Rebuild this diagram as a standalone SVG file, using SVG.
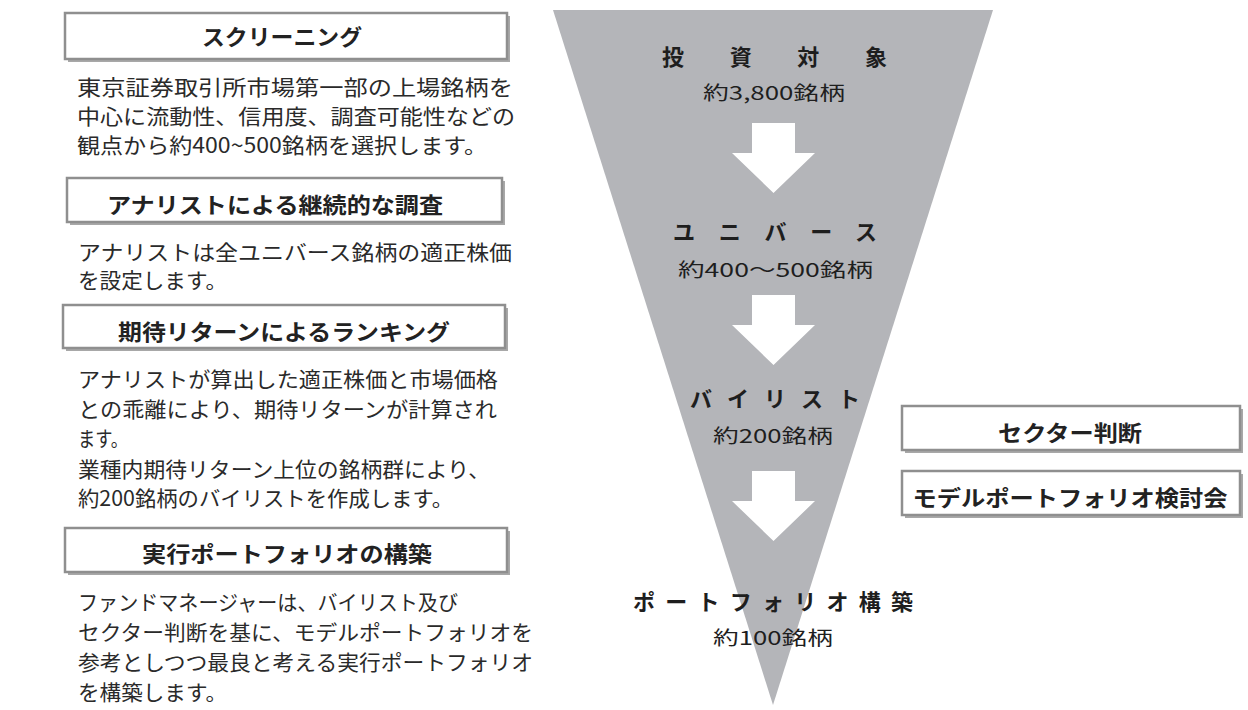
<svg xmlns="http://www.w3.org/2000/svg" width="1248" height="710" viewBox="0 0 1248 710">
<style>
.box{fill:#ffffff;stroke:#8f8f8f;stroke-width:2.5}
.shadow{fill:#a8a8a8}
.title{font-family:"Noto Sans CJK JP","Liberation Sans",sans-serif;font-weight:bold;font-size:22px;fill:#222;text-anchor:middle}
.body{font-family:"Noto Sans CJK JP","Liberation Sans",sans-serif;font-size:21px;fill:#2a2a2a}
.ft{font-family:"Noto Sans CJK JP","Liberation Sans",sans-serif;font-weight:bold;font-size:22px;fill:#1e1e1e}
.fs{font-family:"Noto Sans CJK JP","Liberation Sans",sans-serif;font-size:19px;fill:#1e1e1e}
.arrow{fill:#ffffff}
</style>
<rect width="1248" height="710" fill="#ffffff"/>

<g id="funnel">
<polygon points="553,10 993,10 773,705" fill="#b4b5b9"/>
</g>

<g id="connectors">
<path class="arrow" d="M752,123 H795 V153 H815 L773.5,193 L732,153 H752 Z"/>
<path class="arrow" d="M752,295 H795 V325 H815 L773.5,365 L732,325 H752 Z"/>
<path class="arrow" d="M752,471 H795 V501 H815 L773.5,541 L732,501 H752 Z"/>
</g>

<g id="stage-investment">
<text class="ft" x="662" y="65" font-size="24" textLength="225" lengthAdjust="spacing">投資対象</text>
<text class="fs" x="703" y="100" textLength="142" lengthAdjust="spacingAndGlyphs">約3,800銘柄</text>
</g>
<g id="stage-universe">
<text class="ft" x="673" y="240" textLength="204" lengthAdjust="spacing">ユニバース</text>
<text class="fs" x="678" y="277" textLength="195" lengthAdjust="spacingAndGlyphs">約400～500銘柄</text>
</g>
<g id="stage-buylist">
<text class="ft" x="690" y="407" textLength="170" lengthAdjust="spacing">バイリスト</text>
<text class="fs" x="713" y="443" textLength="120" lengthAdjust="spacingAndGlyphs">約200銘柄</text>
</g>
<g id="stage-portfolio">
<text class="ft" x="633" y="610" textLength="280" lengthAdjust="spacing">ポートフォリオ構築</text>
<text class="fs" x="713" y="645" textLength="120" lengthAdjust="spacingAndGlyphs">約100銘柄</text>
</g>

<g id="sector">
<rect class="shadow" x="905" y="409" width="338" height="44"/>
<rect class="box" x="902" y="406" width="338" height="44"/>
<text class="title" x="1070" y="441" textLength="144" lengthAdjust="spacingAndGlyphs">セクター判断</text>
</g>
<g id="model">
<rect class="shadow" x="905" y="474" width="338" height="44"/>
<rect class="box" x="902" y="471" width="338" height="44"/>
<text class="title" x="1070" y="506" textLength="315" lengthAdjust="spacingAndGlyphs">モデルポートフォリオ検討会</text>
</g>

<g id="screening">
<rect class="shadow" x="68" y="16" width="442" height="46"/>
<rect class="box" x="65" y="13" width="442" height="46"/>
<text class="title" x="282" y="45" textLength="160" lengthAdjust="spacingAndGlyphs">スクリーニング</text>
<text class="body" x="77" y="95" textLength="436" lengthAdjust="spacingAndGlyphs">東京証券取引所市場第一部の上場銘柄を</text>
<text class="body" x="77" y="124" textLength="438" lengthAdjust="spacingAndGlyphs">中心に流動性、信用度、調査可能性などの</text>
<text class="body" x="77" y="153" textLength="410" lengthAdjust="spacingAndGlyphs">観点から約400~500銘柄を選択します。</text>
</g>

<g id="analyst">
<rect class="shadow" x="70" y="181" width="435" height="44"/>
<rect class="box" x="67" y="178" width="435" height="44"/>
<text class="title" x="275" y="213" textLength="336" lengthAdjust="spacingAndGlyphs">アナリストによる継続的な調査</text>
<text class="body" x="78" y="260" textLength="434" lengthAdjust="spacingAndGlyphs">アナリストは全ユニバース銘柄の適正株価</text>
<text class="body" x="78" y="288" textLength="149" lengthAdjust="spacingAndGlyphs">を設定します。</text>
</g>

<g id="ranking">
<rect class="shadow" x="66" y="308" width="442" height="43"/>
<rect class="box" x="63" y="305" width="442" height="43"/>
<text class="title" x="284" y="340" textLength="332" lengthAdjust="spacingAndGlyphs">期待リターンによるランキング</text>
<text class="body" x="78" y="387" textLength="420" lengthAdjust="spacingAndGlyphs">アナリストが算出した適正株価と市場価格</text>
<text class="body" x="78" y="417" textLength="419" lengthAdjust="spacingAndGlyphs">との乖離により、期待リターンが計算され</text>
<text class="body" x="78" y="446" textLength="50" lengthAdjust="spacingAndGlyphs">ます。</text>
<text class="body" x="78" y="477" textLength="412" lengthAdjust="spacingAndGlyphs">業種内期待リターン上位の銘柄群により、</text>
<text class="body" x="78" y="506" textLength="375" lengthAdjust="spacingAndGlyphs">約200銘柄のバイリストを作成します。</text>
</g>

<g id="construction">
<rect class="shadow" x="68" y="531" width="442" height="44"/>
<rect class="box" x="65" y="528" width="442" height="44"/>
<text class="title" x="287" y="562" textLength="290" lengthAdjust="spacingAndGlyphs">実行ポートフォリオの構築</text>
<text class="body" x="78" y="610" textLength="380" lengthAdjust="spacingAndGlyphs">ファンドマネージャーは、バイリスト及び</text>
<text class="body" x="78" y="640" textLength="455" lengthAdjust="spacingAndGlyphs">セクター判断を基に、モデルポートフォリオを</text>
<text class="body" x="78" y="670" textLength="455" lengthAdjust="spacingAndGlyphs">参考としつつ最良と考える実行ポートフォリオ</text>
<text class="body" x="78" y="700" textLength="149" lengthAdjust="spacingAndGlyphs">を構築します。</text>
</g>
</svg>
